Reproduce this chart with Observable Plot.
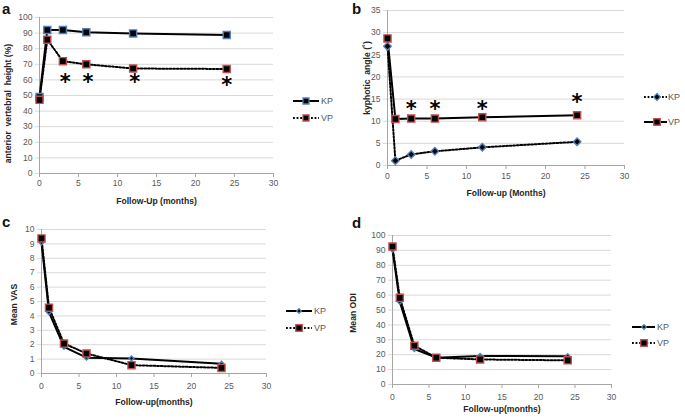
<!DOCTYPE html>
<html>
<head>
<meta charset="utf-8">
<script src="https://cdn.jsdelivr.net/npm/d3@7"></script>
<script src="https://cdn.jsdelivr.net/npm/@observablehq/plot@0.6"></script>
<style>
  html, body { margin: 0; padding: 0; background: #fff; }
  #root { position: relative; width: 685px; height: 418px; background: #fff; overflow: hidden; font-family: "Liberation Sans", Arial, sans-serif; }
  .panel { position: absolute; }
  #overlay { position: absolute; left: 0; top: 0; pointer-events: none; }
</style>
</head>
<body>
<div id="root">
  <div class="panel" id="pa" style="left:0px;top:0px"></div>
  <div class="panel" id="pb" style="left:342px;top:0px"></div>
  <div class="panel" id="pc" style="left:0px;top:209px"></div>
  <div class="panel" id="pd" style="left:342px;top:209px"></div>
</div>
<script>
// ---------- data ----------
const months = [0, 1, 3, 6, 12, 24];
const xTicks = [0, 5, 10, 15, 20, 25, 30];

// a: anterior vertebral height (%)
const aKP = [49, 92, 92, 90.5, 89.8, 88.8];
const aVP = [47.2, 85.8, 72, 70, 67.3, 67];
const aYTicks = [0, 10, 20, 30, 40, 50, 60, 70, 80, 90, 100];
const aStarX = [3.3, 6.2, 12.2, 24];
const aStarY = [61.5, 61.5, 61.5, 60];

// b: kyphotic angle
const bKP = [26.9, 1.1, 2.5, 3.2, 4.1, 5.35];
const bVP = [28.7, 10.5, 10.6, 10.6, 10.9, 11.35];
const bYTicks = [0, 5, 10, 15, 20, 25, 30, 35];
const bStarX = [3, 6, 12, 24];
const bStarY = [13.8, 13.8, 13.8, 15.4];

// c: mean VAS
const cKP = [9.1, 4.25, 1.85, 1.1, 1.05, 0.68];
const cVP = [9.38, 4.57, 2.08, 1.39, 0.58, 0.39];
const cYTicks = [0, 1, 2, 3, 4, 5, 6, 7, 8, 9, 10];

// d: mean ODI
const dKP = [90.5, 55.5, 23.8, 18, 19.2, 19];
const dVP = [92.6, 58.2, 26, 18, 16.8, 16.2];
const dYTicks = [0, 10, 20, 30, 40, 50, 60, 70, 80, 90, 100];

// ---------- styles ----------
const BLUE = "#4f81bd";
const RED = "#c0504d";
const GRID = "#d9d9d9";
const AXIS = "#a6a6a6";
const TICKTXT = "#595959";
const TITLE = "#262626";
const DOTS = "1.8,1.8";

function panel(opt) {
  const marks = [
    Plot.gridY(opt.yTicks, {stroke: GRID, strokeOpacity: 1}),
    Plot.axisY(opt.yTicks, {tickSize: 4, tickPadding: 3, stroke: GRID, fill: TICKTXT, label: null}),
    Plot.axisX(xTicks, {tickSize: 4, tickPadding: opt.xPad, stroke: AXIS, fill: TICKTXT, label: null}),
    Plot.ruleX([0], {stroke: AXIS}),
    Plot.ruleY([0], {stroke: AXIS}),
    Plot.text([opt.xLabel], {frameAnchor: "bottom", textAnchor: "middle", lineAnchor: "middle",
      dy: opt.xLabelDy, fontWeight: "bold", fontSize: 8.6, fill: TITLE}),
    Plot.text([opt.yLabel], {frameAnchor: "left", textAnchor: "middle", lineAnchor: "middle",
      rotate: -90, dx: opt.yLabelDx, dy: opt.yLabelDy, fontWeight: "bold", fontSize: 8.6, fill: TITLE})
  ];
  for (const s of opt.series) {
    marks.push(Plot.line(months, {x: months, y: s.values, stroke: "black", strokeWidth: 2,
      strokeDasharray: s.dotted ? DOTS : null}));
  }
  for (const s of opt.series) {
    marks.push(Plot.dot(months, {x: months, y: s.values, symbol: s.symbol, r: s.r,
      fill: "black", stroke: s.color, strokeWidth: 1.4}));
  }
  if (opt.starX) {
    marks.push(Plot.text(opt.starX, {x: opt.starX, y: opt.starY, text: () => "*",
      fontSize: 21, fontWeight: "bold", fill: "black", dy: 5, fontFamily: "DejaVu Sans"}));
  }
  return Plot.plot({
    width: opt.width, height: 209,
    marginLeft: opt.ml, marginRight: opt.mr, marginTop: opt.mt, marginBottom: opt.mb,
    x: {domain: [0, 30], ticks: xTicks},
    y: {domain: opt.yDomain, ticks: opt.yTicks},
    style: {fontFamily: "Liberation Sans, Arial, sans-serif", fontSize: "8.6px", color: TICKTXT, background: "transparent", overflow: "visible"},
    marks
  });
}

document.getElementById("pa").append(panel({
  width: 342, ml: 39, mr: 69, mt: 17, mb: 36, xPad: 2,
  yDomain: [0, 100], yTicks: aYTicks,
  xLabel: "Follow-Up (months)", xLabelDy: 28,
  yLabel: "anterior  vertebral  height (%)", yLabelDx: -31, yLabelDy: 8,
  series: [
    {values: aKP, dotted: false, symbol: "square", r: 4, color: BLUE},
    {values: aVP, dotted: true, symbol: "square", r: 4, color: RED}
  ],
  starX: aStarX, starY: aStarY
}));

document.getElementById("pb").append(panel({
  width: 343, ml: 45, mr: 61, mt: 10, mb: 44, xPad: 3,
  yDomain: [0, 35], yTicks: bYTicks,
  xLabel: "Follow-up (Months)", xLabelDy: 28,
  yLabel: "kyphotic  angle (˚)", yLabelDx: -20, yLabelDy: -10,
  series: [
    {values: bKP, dotted: true, symbol: "diamond2", r: 3.4, color: BLUE},
    {values: bVP, dotted: false, symbol: "square", r: 4, color: RED}
  ],
  starX: bStarX, starY: bStarY
}));

document.getElementById("pc").append(panel({
  width: 342, ml: 41, mr: 76, mt: 20, mb: 45, xPad: 5,
  yDomain: [0, 10], yTicks: cYTicks,
  xLabel: "Follow-up(months)", xLabelDy: 29,
  yLabel: "Mean VAS", yLabelDx: -27, yLabelDy: 3,
  series: [
    {values: cKP, dotted: false, symbol: "diamond2", r: 2.2, color: BLUE},
    {values: cVP, dotted: true, symbol: "square", r: 4, color: RED}
  ]
}));

document.getElementById("pd").append(panel({
  width: 343, ml: 50, mr: 74, mt: 26, mb: 34, xPad: 5,
  yDomain: [0, 100], yTicks: dYTicks,
  xLabel: "Follow-up(months)", xLabelDy: 25,
  yLabel: "Mean ODI", yLabelDx: -39, yLabelDy: 3,
  series: [
    {values: dKP, dotted: false, symbol: "diamond2", r: 2.2, color: BLUE},
    {values: dVP, dotted: true, symbol: "square", r: 4, color: RED}
  ]
}));

// ---------- overlay: panel letters + legends ----------
const panelLetters = ["a", "b", "c", "d"];
const legendNames = ["KP", "VP"];
const svg = d3.select("#root").append("svg").attr("id", "overlay")
  .attr("width", 685).attr("height", 418);

const letterPos = [[2, 14], [352, 14], [2, 227], [352, 228]];
panelLetters.forEach((t, i) => {
  svg.append("text").attr("x", letterPos[i][0]).attr("y", letterPos[i][1])
    .attr("font-family", "Liberation Sans, Arial, sans-serif").attr("font-weight", "bold")
    .attr("font-size", 15).attr("fill", "#111").text(t);
});

const legends = [
  {x0: 293, x1: 319, mx: 306, tx: 321, ys: [101, 118],
   items: [{dotted: false, sym: d3.symbolSquare, size: 36, color: BLUE},
           {dotted: true, sym: d3.symbolSquare, size: 36, color: RED}]},
  {x0: 644, x1: 667, mx: 657, tx: 668, ys: [97, 122],
   items: [{dotted: true, sym: d3.symbolDiamond2, size: 30, color: BLUE},
           {dotted: false, sym: d3.symbolSquare, size: 42, color: RED}]},
  {x0: 286, x1: 312, mx: 299, tx: 314, ys: [311, 328],
   items: [{dotted: false, sym: d3.symbolDiamond2, size: 14, color: BLUE},
           {dotted: true, sym: d3.symbolSquare, size: 42, color: RED}]},
  {x0: 632, x1: 655, mx: 644, tx: 657, ys: [327, 343],
   items: [{dotted: false, sym: d3.symbolDiamond2, size: 14, color: BLUE},
           {dotted: true, sym: d3.symbolSquare, size: 42, color: RED}]}
];
legends.forEach(L => {
  L.items.forEach((it, k) => {
    const y = L.ys[k];
    svg.append("line").attr("x1", L.x0).attr("x2", L.x1).attr("y1", y).attr("y2", y)
      .attr("stroke", "black").attr("stroke-width", 2)
      .attr("stroke-dasharray", it.dotted ? DOTS : null);
    svg.append("path").attr("d", d3.symbol(it.sym, it.size)())
      .attr("transform", `translate(${L.mx},${y})`)
      .attr("fill", "black").attr("stroke", it.color).attr("stroke-width", 1.3);
    svg.append("text").attr("x", L.tx).attr("y", y).attr("dy", "0.35em")
      .attr("font-family", "Liberation Sans, Arial, sans-serif").attr("font-size", 9)
      .attr("fill", TICKTXT).text(legendNames[k]);
  });
});
</script>
</body>
</html>
